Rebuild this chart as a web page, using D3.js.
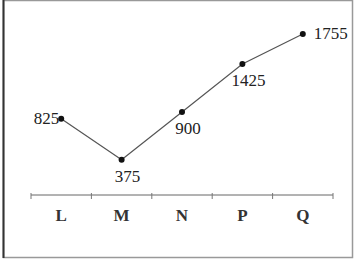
<!DOCTYPE html>
<html>
<head>
<meta charset="utf-8">
<script src="https://cdn.jsdelivr.net/npm/d3@7"></script>
<style>
  body { margin: 0; background: #fff; }
  svg text { font-family: "Liberation Serif", "DejaVu Serif", serif; fill: #222; }
</style>
</head>
<body>
<svg id="chart"></svg>
<script>
// categories and values
const categories = ['L', 'M', 'N', 'P', 'Q'];
const values = [825, 375, 900, 1425, 1755];
// where each value label sits relative to its point
const labelPos = ['left', 'below', 'below', 'below', 'right'];

const width = 354, height = 265;

const svg = d3.select('#chart')
    .attr('width', width)
    .attr('height', height);

// outer frame
svg.append('rect')
    .attr('x', 3.5).attr('y', 0.5)
    .attr('width', 349).attr('height', 257)
    .attr('fill', 'none')
    .attr('stroke', '#999')
    .attr('stroke-width', 1.5);
svg.append('line')
    .attr('x1', 3.5).attr('x2', 3.5)
    .attr('y1', 0).attr('y2', 258)
    .attr('stroke', '#333')
    .attr('stroke-width', 2);

const x = d3.scaleBand()
    .domain(categories)
    .range([31, 333]);

const y = d3.scaleLinear()
    .domain([0, 1755])
    .range([194, 34]);

// x axis: ticks on the band edges
const axisY = 195;
svg.append('line')
    .attr('x1', x.range()[0]).attr('x2', x.range()[1])
    .attr('y1', axisY).attr('y2', axisY)
    .attr('stroke', '#666')
    .attr('stroke-width', 1);

const edges = categories.map(c => x(c)).concat([x.range()[1]]);
svg.append('g')
    .selectAll('line')
    .data(edges)
    .enter().append('line')
        .attr('x1', d => d).attr('x2', d => d)
        .attr('y1', axisY - 2).attr('y2', axisY + 4)
        .attr('stroke', '#777')
        .attr('stroke-width', 1);

svg.append('g')
    .selectAll('text')
    .data(categories)
    .enter().append('text')
        .attr('x', d => x(d) + x.bandwidth() / 2)
        .attr('y', 221)
        .attr('text-anchor', 'middle')
        .attr('font-size', 17)
        .attr('font-weight', 'bold')
        .style('fill', '#333')
        .text(d => d);

// line + points
const pts = categories.map((c, i) => ({ c: c, v: values[i], pos: labelPos[i] }));
const cx = d => x(d.c) + x.bandwidth() / 2;

svg.append('path')
    .datum(pts)
    .attr('fill', 'none')
    .attr('stroke', '#555')
    .attr('stroke-width', 1.2)
    .attr('d', d3.line().x(cx).y(d => y(d.v)));

svg.append('g')
    .selectAll('circle')
    .data(pts)
    .enter().append('circle')
        .attr('cx', cx)
        .attr('cy', d => y(d.v))
        .attr('r', 3)
        .attr('fill', '#111');

svg.append('g')
    .selectAll('text')
    .data(pts)
    .enter().append('text')
        .attr('font-size', 17)
        .attr('x', d => d.pos == 'left' ? cx(d) - 2 : d.pos == 'right' ? cx(d) + 11 : cx(d) + 6)
        .attr('y', d => d.pos == 'below' ? y(d.v) + 22 : y(d.v) + 5)
        .attr('text-anchor', d => d.pos == 'left' ? 'end' : d.pos == 'right' ? 'start' : 'middle')
        .text(d => d.v);
</script>
</body>
</html>
